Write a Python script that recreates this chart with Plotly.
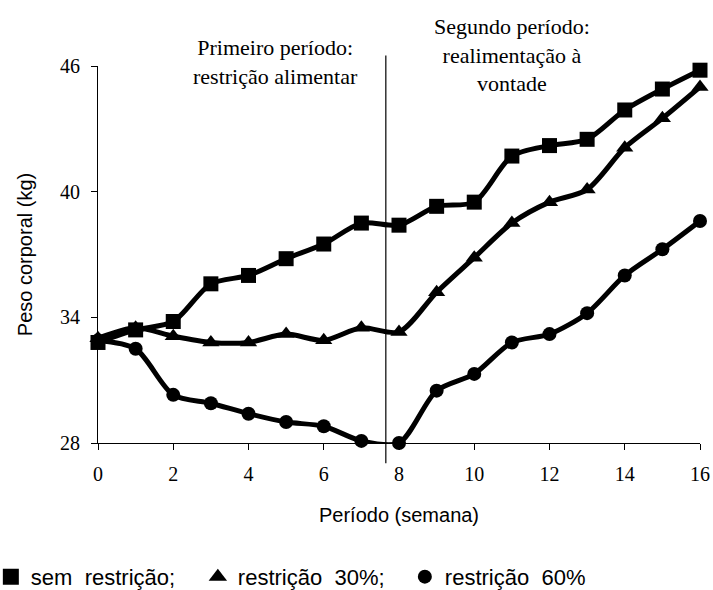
import plotly.graph_objects as go

weeks = list(range(0, 17))
sem_restricao = [32.8, 33.4, 33.8, 35.6, 36.0, 36.8, 37.5, 38.5, 38.4, 39.3, 39.5, 41.7, 42.2, 42.5, 43.9, 44.9, 45.8]
restricao_30 = [33.0, 33.5, 33.1, 32.8, 32.8, 33.2, 32.9, 33.5, 33.3, 35.2, 36.85, 38.5, 39.5, 40.1, 42.1, 43.5, 45.0]
restricao_60 = [32.9, 32.5, 30.3, 29.9, 29.4, 29.0, 28.8, 28.1, 28.0, 30.5, 31.3, 32.8, 33.2, 34.2, 36.0, 37.25, 38.6]

series_names = ["sem\u00a0\u00a0restrição;", "restrição\u00a0\u00a030%;", "restrição\u00a0\u00a060%"]
series_symbols = ["square", "triangle-up", "circle"]
series_sizes = [15, 15, 14]

period_boundary = 7.65
x_ticks = list(range(0, 17, 2))
y_ticks = [28, 34, 40, 46]

label_first = "Primeiro período:<br>restrição alimentar"
label_second = "Segundo período:<br>realimentação à<br>vontade"

fig = go.Figure()

for vals, name, sym, sz in zip([sem_restricao, restricao_30, restricao_60], series_names, series_symbols, series_sizes):
    fig.add_trace(go.Scatter(
        x=weeks, y=vals, mode="lines+markers",
        line=dict(color="black", width=5, shape="spline", smoothing=0.8),
        marker=dict(symbol=sym, size=sz, color="black"),
        cliponaxis=False, showlegend=False, name=name,
    ))

for name, sym, sz in zip(series_names, series_symbols, [17, 20, 14]):
    fig.add_trace(go.Scatter(
        x=[None], y=[None], mode="markers",
        marker=dict(symbol=sym, size=sz, color="black"),
        name=name, showlegend=True,
    ))

fig.add_shape(type="line", xref="x", yref="paper",
              x0=period_boundary, x1=period_boundary, y0=-0.054, y1=1.028,
              line=dict(color="black", width=1.2))

fig.add_annotation(x=4.72, y=1.010, xref="x", yref="paper", text=label_first,
                   showarrow=False, yanchor="middle", xanchor="center",
                   font=dict(family="Liberation Serif", size=22, color="black"))
fig.add_annotation(x=11.0, y=1.030, xref="x", yref="paper", text=label_second,
                   showarrow=False, yanchor="middle", xanchor="center",
                   font=dict(family="Liberation Serif", size=22, color="black"))

fig.update_xaxes(
    range=[0, 16], tickvals=x_ticks, showline=True, linecolor="black", linewidth=1,
    ticks="outside", ticklen=6, tickcolor="black", showgrid=False, zeroline=False,
    automargin=False, ticklabelstandoff=7,
    tickfont=dict(family="Liberation Serif", size=20, color="black"),
    title=dict(text="Período (semana)", standoff=23,
               font=dict(family="Liberation Sans", size=20, color="black")),
)
fig.update_yaxes(
    range=[28, 46], tickvals=y_ticks, showline=True, linecolor="black", linewidth=1,
    ticks="outside", ticklen=6, tickcolor="black", showgrid=False, zeroline=False,
    automargin=False, ticklabelstandoff=7,
    tickfont=dict(family="Liberation Serif", size=20, color="black"),
    title=dict(text="Peso corporal (kg)", standoff=22,
               font=dict(family="Liberation Sans", size=20, color="black")),
)

fig.update_layout(
    width=713, height=590,
    margin=dict(l=98, r=13, t=66, b=147, autoexpand=False),
    paper_bgcolor="white", plot_bgcolor="white",
    legend=dict(orientation="h", x=-0.178, xanchor="left", y=-0.355, yanchor="middle",
                font=dict(family="Liberation Sans", size=22, color="black"),
                itemwidth=30, tracegroupgap=0,
                entrywidthmode="pixels", entrywidth=162),
)

fig.write_html(
    "out.html",
    config={"displayModeBar": False},
    post_script="document.body.style.margin='0';document.body.style.overflow='hidden';",
)
